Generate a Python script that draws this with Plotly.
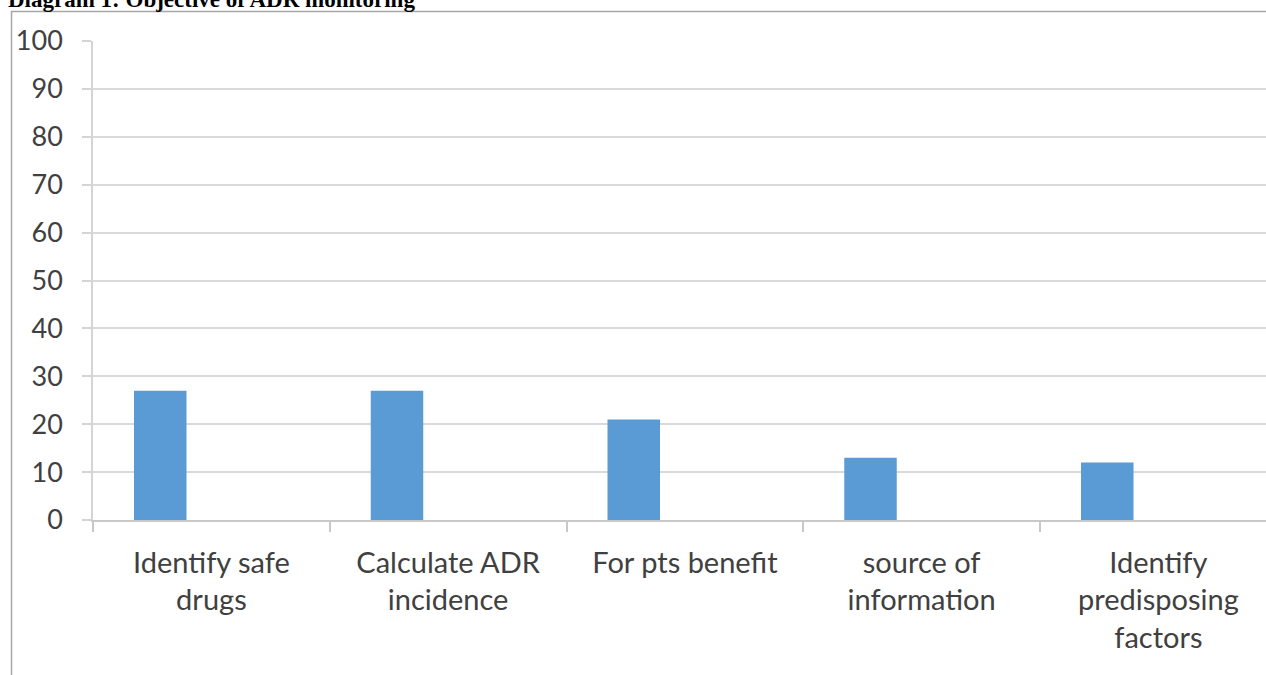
import plotly.graph_objects as go

# Survey responses: objective of ADR monitoring (percent)
categories = [
    "Identify safe<br>drugs",
    "Calculate ADR<br>incidence",
    "For pts benefit",
    "source of<br>information",
    "Identify<br>predisposing<br>factors",
]
values = [27, 27, 21, 13, 12]
y_ticks = list(range(0, 101, 10))

W, H = 1266, 675
L, T, B = 93, 41, 155
plot_w = W - L
plot_h = H - T - B
cat_px = 236.75  # pixel width of one category slot

fig = go.Figure(
    go.Bar(
        x=categories,
        y=values,
        marker=dict(color="#5b9bd5", line=dict(width=0)),
        width=52.5 / cat_px,
        offset=41 / cat_px - 0.5,
        hoverinfo="x+y",
    )
)

font_family = "Lato, Carlito, Calibri, sans-serif"

fig.update_layout(
    width=W,
    height=H,
    margin=dict(l=L, r=0, t=T, b=B, pad=0),
    paper_bgcolor="white",
    plot_bgcolor="white",
    showlegend=False,
    xaxis=dict(
        type="category",
        range=[-0.5, -0.5 + plot_w / cat_px],
        tickson="boundaries",
        ticks="outside",
        ticklen=10,
        tickcolor="#c8c8c8",
        tickwidth=1.5,
        showgrid=False,
        showline=True,
        linecolor="#c8c8c8",
        linewidth=1.5,
        tickfont=dict(family=font_family, size=29, color="#404040"),
        ticklabelstandoff=16,
        fixedrange=True,
    ),
    yaxis=dict(
        range=[0, 100],
        tickvals=y_ticks,
        ticks="outside",
        ticklen=9,
        tickcolor="#d4d4d4",
        tickwidth=1.5,
        showgrid=True,
        gridcolor="#d9d9d9",
        gridwidth=1.5,
        showline=True,
        linecolor="#d4d4d4",
        linewidth=1.5,
        zeroline=False,
        tickfont=dict(family=font_family, size=27, color="#404040"),
        ticklabelstandoff=14,
        fixedrange=True,
    ),
    shapes=[
        # chart frame (top and left edges visible)
        dict(
            type="rect",
            xref="paper",
            yref="paper",
            x0=(11.5 - L) / plot_w,
            x1=1.02,
            y0=-0.5,
            y1=1 + (T - 11.5) / plot_h,
            line=dict(color="#a6a6a6", width=1.5),
            fillcolor="rgba(0,0,0,0)",
            layer="below",
        )
    ],
    annotations=[
        dict(
            text="<b>Diagram 1: Objective of ADR monitoring</b>",
            xref="paper",
            yref="paper",
            x=(7 - L) / plot_w,
            y=1 + (T - 13) / plot_h,
            xanchor="left",
            yanchor="bottom",
            borderpad=0,
            showarrow=False,
            font=dict(family="Liberation Serif, Times New Roman, serif", size=23, color="black"),
        )
    ],
)

fig.write_html("out.html")
